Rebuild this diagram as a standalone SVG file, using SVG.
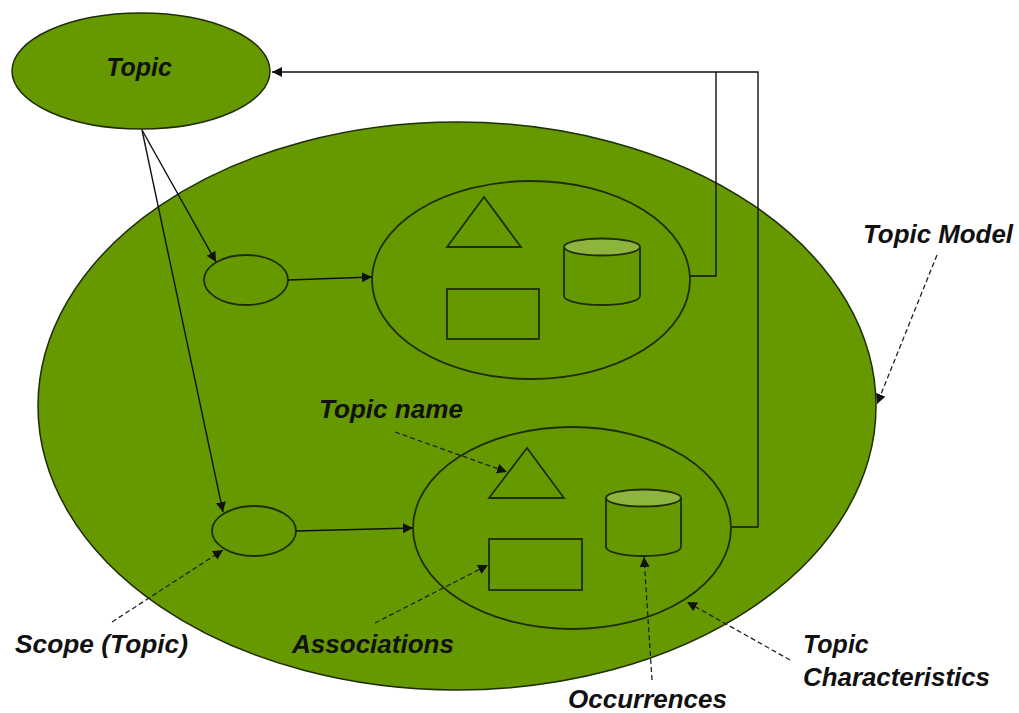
<svg xmlns="http://www.w3.org/2000/svg" width="1019" height="713" viewBox="0 0 1019 713">
  <style>
    .fill { fill: #669900; stroke: #1f2d05; stroke-width: 1.5; }
    .shape { fill: none; stroke: #1f2d05; stroke-width: 1.8; }
    .lid { fill: #8db43c; stroke: #1f2d05; stroke-width: 1.8; }
    .wire { fill: none; stroke: #111; stroke-width: 1.4; }
    .note { fill: none; stroke: #222; stroke-width: 1.3; stroke-dasharray: 5 3; }
    .label { font-family: "Liberation Sans", Arial, sans-serif; font-size: 25px; font-weight: bold; font-style: italic; fill: #111; }
  </style>
  <defs>
    <marker id="head" viewBox="0 0 10 10" refX="10" refY="5" markerWidth="10" markerHeight="10" markerUnits="userSpaceOnUse" orient="auto">
      <path d="M0,0 L10,5 L0,10 z" fill="#111"/>
    </marker>
  </defs>

  <!-- outer topic model -->
  <g id="topic-model">
    <ellipse class="fill" cx="457" cy="406" rx="419" ry="284"/>
  </g>

  <!-- topic -->
  <g id="topic">
    <ellipse class="fill" cx="141" cy="71" rx="129" ry="58"/>
    <text class="label" x="139" y="76" text-anchor="middle">Topic</text>
  </g>

  <!-- scopes -->
  <g id="scope-upper">
    <ellipse class="shape" cx="246" cy="280" rx="42" ry="25"/>
  </g>
  <g id="scope-lower">
    <ellipse class="shape" cx="254" cy="531" rx="42" ry="25"/>
  </g>

  <!-- characteristics, upper -->
  <g id="characteristics-upper">
    <ellipse class="shape" cx="531" cy="280" rx="159" ry="99"/>
    <polygon class="shape" points="484,197 447,247 521,247"/>
    <rect class="shape" x="447" y="289" width="92" height="50"/>
    <path class="shape" d="M564,247 L564,296 A38,9 0 0 0 640,296 L640,247"/>
    <ellipse class="lid" cx="602" cy="247" rx="38" ry="8.5"/>
  </g>

  <!-- characteristics, lower -->
  <g id="characteristics-lower">
    <ellipse class="shape" cx="572" cy="528" rx="159" ry="101"/>
    <polygon class="shape" points="527,448 489,498 564,498"/>
    <rect class="shape" x="489" y="539" width="93" height="51"/>
    <path class="shape" d="M606,498 L606,547 A37.5,9 0 0 0 681,547 L681,498"/>
    <ellipse class="lid" cx="643.5" cy="498" rx="37.5" ry="8.5"/>
  </g>

  <!-- labels -->
  <g id="label-topic-model">
    <text class="label" x="863" y="243" textLength="150" lengthAdjust="spacingAndGlyphs">Topic Model</text>
  </g>
  <g id="label-topic-name">
    <text class="label" x="319" y="418" textLength="144" lengthAdjust="spacingAndGlyphs">Topic name</text>
  </g>
  <g id="label-scope">
    <text class="label" x="15" y="653" textLength="173" lengthAdjust="spacingAndGlyphs">Scope (Topic)</text>
  </g>
  <g id="label-associations">
    <text class="label" x="292" y="653" textLength="162" lengthAdjust="spacingAndGlyphs">Associations</text>
  </g>
  <g id="label-occurrences">
    <text class="label" x="568" y="708" textLength="159" lengthAdjust="spacingAndGlyphs">Occurrences</text>
  </g>
  <g id="label-characteristics">
    <text class="label" x="803" y="653">Topic</text>
    <text class="label" x="803" y="686" textLength="187" lengthAdjust="spacingAndGlyphs">Characteristics</text>
  </g>

  <!-- connectors -->
  <g id="connectors">
    <line class="wire" x1="142" y1="130" x2="216" y2="262" marker-end="url(#head)"/>
    <line class="wire" x1="142" y1="130" x2="223" y2="512" marker-end="url(#head)"/>
    <line class="wire" x1="288" y1="280" x2="372" y2="277" marker-end="url(#head)"/>
    <line class="wire" x1="296" y1="531" x2="413" y2="528" marker-end="url(#head)"/>
    <polyline class="wire" points="690,276 716,276 716,72"/>
    <polyline class="wire" points="732,527 758,527 758,72 272,72" marker-end="url(#head)"/>

    <line class="note" x1="937" y1="255" x2="877" y2="404" marker-end="url(#head)"/>
    <line class="note" x1="395" y1="432" x2="507" y2="472" marker-end="url(#head)"/>
    <line class="note" x1="112" y1="622" x2="223" y2="550" marker-end="url(#head)"/>
    <line class="note" x1="375" y1="623" x2="488" y2="565" marker-end="url(#head)"/>
    <line class="note" x1="652" y1="680" x2="644" y2="557" marker-end="url(#head)"/>
    <line class="note" x1="790" y1="660" x2="687" y2="602" marker-end="url(#head)"/>
  </g>
</svg>
